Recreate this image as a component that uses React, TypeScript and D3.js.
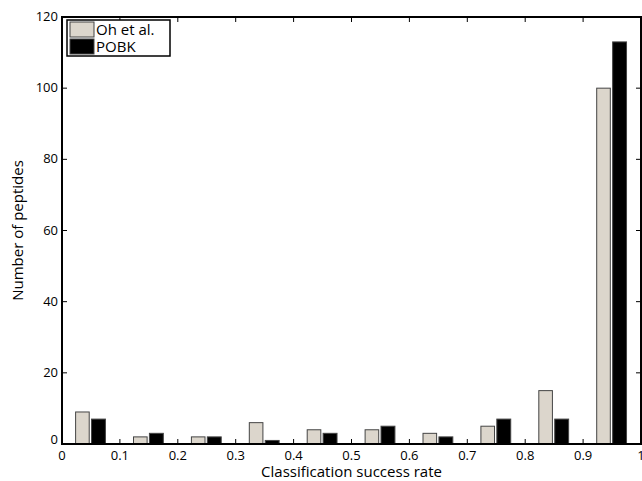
import React from "react";
import * as d3 from "d3";

const binCenters = [0.05, 0.15, 0.25, 0.35, 0.45, 0.55, 0.65, 0.75, 0.85, 0.95];
const ohValues = [9, 2, 2, 6, 4, 4, 3, 5, 15, 100];
const pobkValues = [7, 3, 2, 1, 3, 5, 2, 7, 7, 113];
const seriesNames = ["Oh et al.", "POBK"];
const xTicks = [0, 0.1, 0.2, 0.3, 0.4, 0.5, 0.6, 0.7, 0.8, 0.9, 1];
const yTicks = [0, 20, 40, 60, 80, 100, 120];

const W = 642, H = 481;
const L = 62, R = 641, T = 17, B = 444;
const FONT = "'Open Sans', 'DejaVu Sans', sans-serif";
const GRAY = "#dcd6cc";

export default function App() {
  const x = d3.scaleLinear().domain([0, 1]).range([L, R]);
  const y = d3.scaleLinear().domain([0, 120]).range([B, T]);
  const tl = 5;
  return (
    <svg width={W} height={H} style={{ position: "absolute", left: 0, top: 0, background: "#fff" }}>
      {binCenters.map((c, i) => (
        <g key={i}>
          <rect x={x(c - 0.0265)} width={x(c - 0.003) - x(c - 0.0265)} y={y(ohValues[i])} height={y(0) - y(ohValues[i])}
            fill={GRAY} stroke="#444" strokeWidth={1} />
          <rect x={x(c + 0.001)} width={x(c + 0.025) - x(c + 0.001)} y={y(pobkValues[i])} height={y(0) - y(pobkValues[i])}
            fill="#000" stroke="#444" strokeWidth={1} />
        </g>
      ))}
      {xTicks.map((t, i) => (
        <g key={"x" + i}>
          <line x1={x(t)} x2={x(t)} y1={B} y2={B - tl} stroke="#000" />
          <line x1={x(t)} x2={x(t)} y1={T} y2={T + tl} stroke="#000" />
          <text x={x(t)} y={B + 16} fontSize={13} fontFamily={FONT} textAnchor="middle">{String(t)}</text>
        </g>
      ))}
      {yTicks.map((t, i) => (
        <g key={"y" + i}>
          <line x1={L} x2={L + tl} y1={y(t)} y2={y(t)} stroke="#000" />
          <line x1={R} x2={R - tl} y1={y(t)} y2={y(t)} stroke="#000" />
          <text x={L - 4} y={y(t) + (t === 0 ? 0 : 4)} fontSize={13} fontFamily={FONT} textAnchor="end">{String(t)}</text>
        </g>
      ))}
      <rect x={L} y={T} width={R - L} height={B - T} fill="none" stroke="#000" strokeWidth={2} />
      <text x={(L + R) / 2} y={477} fontSize={15} fontFamily={FONT} textAnchor="middle">Classification success rate</text>
      <text transform={`translate(23, ${(T + B) / 2}) rotate(-90)`} fontSize={15} fontFamily={FONT} textAnchor="middle">Number of peptides</text>
      <g>
        <rect x={67} y={20} width={103} height={36} fill="#fff" stroke="#000" strokeWidth={1.5} />
        <rect x={70} y={22} width={24} height={15} fill={GRAY} stroke="#444" />
        <rect x={70} y={39} width={24} height={15} fill="#000" stroke="#444" />
        <text x={96} y={35} fontSize={15} fontFamily={FONT}>{seriesNames[0]}</text>
        <text x={96} y={52} fontSize={15} fontFamily={FONT}>{seriesNames[1]}</text>
      </g>
    </svg>
  );
}
